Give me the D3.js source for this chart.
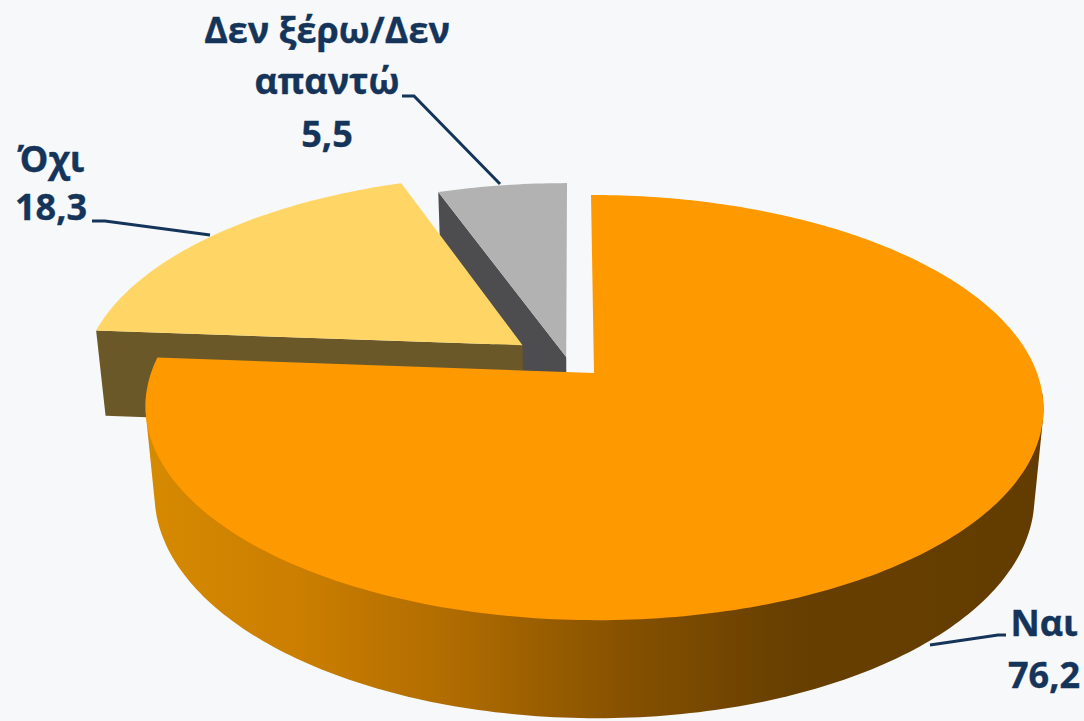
<!DOCTYPE html>
<html>
<head>
    <title>Pie</title>
    <meta charset="utf-8">
    <script src="https://cdnjs.cloudflare.com/ajax/libs/d3/7.8.5/d3.min.js"></script>
    <style>
        html, body { margin: 0; padding: 0; background-color: #f7f8f9; overflow: hidden; }
        svg { display: block; }
        text { font-family: "Open Sans", sans-serif; font-weight: 700; font-size: 36px; fill: #14345a; stroke: #14345a; stroke-width: 0.4px; text-anchor: middle; }
    </style>
</head>
<body>
    <div id="chart"></div>
    <script>
        const categories = ['Ναι', 'Όχι', 'Δεν ξέρω/Δεν απαντώ'];
        const values = [76.2, 18.3, 5.5];
        const valueLabels = ['76,2', '18,3', '5,5'];

        const width = 1084, height = 721;

        // perspective of the pie plane
        const cx = 594, cy = 373;
        const sx = 443, sy = 207, hs = 89;
        const k = 0.1625, m = 0.02, skew = -3;

        // u,v in the pie plane (radius 1), h = 0 on top and 1 at the bottom of the wall
        function project(u, v, h) {
            const w = 1 + k * v + m * h;
            return [cx + skew * v + u * sx / w, cy + (-v * sy + h * hs) / w];
        }

        const pieData = d3.pie().sort(null).startAngle(0).endAngle(2 * Math.PI)(values);

        // how far each slice is pulled out
        const offsets = [[0, 0], [-0.164, 0.137], [-0.063, 0.078]];

        const line = d3.line();

        function rim(a0, a1, off, h) {
            const n = Math.max(2, Math.ceil((a1 - a0) * 60));
            return d3.range(n + 1).map(i => {
                const a = a0 + (a1 - a0) * i / n;
                return project(off[0] + Math.sin(a), off[1] + Math.cos(a), h);
            });
        }

        function topFace(d, off) {
            return line([project(off[0], off[1], 0), ...rim(d.startAngle, d.endAngle, off, 0)]) + 'Z';
        }

        function radialWall(angle, off) {
            const outerU = off[0] + Math.sin(angle), outerV = off[1] + Math.cos(angle);
            return line([
                project(off[0], off[1], 0),
                project(outerU, outerV, 0),
                project(outerU, outerV, 1),
                project(off[0], off[1], 1)
            ]) + 'Z';
        }

        const svg = d3.select('#chart').append('svg')
            .attr('width', width)
            .attr('height', height);

        const grad = svg.append('defs').append('linearGradient')
            .attr('id', 'wall')
            .attr('gradientUnits', 'userSpaceOnUse')
            .attr('x1', 147).attr('x2', 1044).attr('y1', 0).attr('y2', 0);
        [[0, '#d68a00'], [0.17, '#cb7e00'], [0.34, '#b06c00'], [0.54, '#845000'], [0.72, '#673f00'], [1, '#623c00']]
            .forEach(s => grad.append('stop').attr('offset', s[0]).attr('stop-color', s[1]));

        // grey slice, at the back
        svg.append('path').attr('d', radialWall(pieData[2].startAngle, offsets[2])).attr('fill', '#4d4d4f');
        svg.append('path').attr('d', topFace(pieData[2], offsets[2])).attr('fill', '#b2b2b2');

        // yellow slice
        svg.append('path').attr('d', radialWall(pieData[1].startAngle, offsets[1])).attr('fill', '#6b5828');
        svg.append('path').attr('d', topFace(pieData[1], offsets[1])).attr('fill', '#ffd666');

        // orange slice: hull of the front rims gives the wall outline, top face goes over it
        const frontStart = Math.PI * 0.53, frontEnd = Math.PI * 1.47;
        const wallHull = d3.polygonHull([
            ...rim(frontStart, frontEnd, offsets[0], 0),
            ...rim(frontStart, frontEnd, offsets[0], 1)
        ]);
        svg.append('path').attr('d', line(wallHull) + 'Z').attr('fill', 'url(#wall)');
        svg.append('path').attr('d', topFace(pieData[0], offsets[0])).attr('fill', '#ff9900');

        // leader lines
        const leaders = [
            [[1006, 635], [998, 635], [930, 645]],
            [[92, 221], [105, 221], [210, 235]],
            [[402, 96], [414, 96], [500, 184]]
        ];
        leaders.forEach(l => svg.append('path')
            .attr('d', line(l))
            .attr('fill', 'none')
            .attr('stroke', '#14345a')
            .attr('stroke-width', 3));

        // labels
        const labelRows = [
            { x: 1044, lines: [[categories[0], 636], [valueLabels[0], 688]] },
            { x: 51, lines: [[categories[1], 172], [valueLabels[1], 220]] },
            { x: 327, lines: [['Δεν ξέρω/Δεν', 43], ['απαντώ', 94], [valueLabels[2], 147]] }
        ];
        labelRows.forEach(r => r.lines.forEach(t => svg.append('text')
            .attr('x', r.x)
            .attr('y', t[1])
            .text(t[0])));
    </script>
</body>
</html>
